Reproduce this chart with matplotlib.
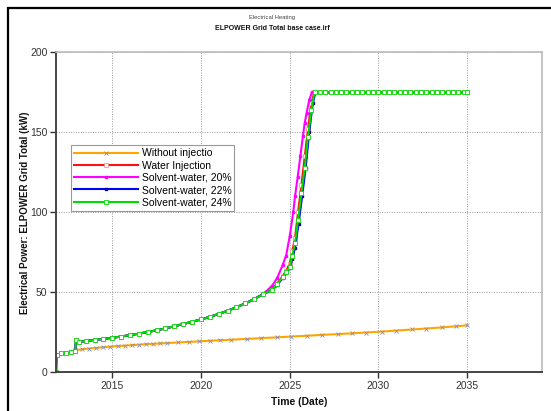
import matplotlib
matplotlib.use("Agg")
import matplotlib.pyplot as plt
from matplotlib.patches import Rectangle

plt.rcParams['font.family'] = ['Liberation Sans', 'DejaVu Sans']

# === DATA (decimal years, kW) ===
# shared start-up part of the injection cases
t_early = [2011.83, 2011.86, 2012.1, 2012.4, 2012.7, 2012.92, 2012.95, 2013.1, 2013.5,
           2014.0, 2014.5, 2015.0, 2015.5, 2016.0, 2016.5, 2017.0, 2017.5, 2018.0,
           2018.5, 2019.0, 2019.5, 2020.0, 2020.5, 2021.0, 2021.5, 2022.0, 2022.5,
           2023.0, 2023.5]
v_early = [0, 11.0, 11.8, 12.4, 13.0, 13.5, 20.0, 19.0, 19.6,
           20.3, 20.9, 21.6, 22.4, 23.3, 24.2, 25.2, 26.3, 27.5,
           28.8, 30.2, 31.6, 33.1, 34.7, 36.5, 38.5, 40.7, 43.1,
           45.8, 48.9]

# plateau at the 175 kW cap
t_plateau = [2026.7, 2027.0, 2027.3, 2027.6, 2027.9, 2028.2, 2028.5, 2028.8, 2029.1,
             2029.4, 2029.7, 2030.0, 2030.3, 2030.6, 2030.9, 2031.2, 2031.5, 2031.8,
             2032.1, 2032.4, 2032.7, 2033.0, 2033.3, 2033.6, 2033.9, 2034.2, 2034.5,
             2034.8, 2035.0]
v_plateau = [175] * len(t_plateau)

# without injection
t_noinj = [2012.9, 2013.3, 2013.7, 2014.1, 2014.5, 2014.9,
           2015.3, 2015.7, 2016.1, 2016.5, 2016.9, 2017.3, 2017.7, 2018.1, 2018.7,
           2019.3, 2019.9, 2020.5, 2021.1, 2021.7, 2022.6, 2023.4, 2024.3, 2025.1,
           2026.0, 2026.8, 2027.7, 2028.5, 2029.3, 2030.2, 2031.0, 2031.9, 2032.7,
           2033.6, 2034.4, 2035.0]
v_noinj = [13.9, 14.4, 14.9, 15.3, 15.7, 16.1,
           16.4, 16.7, 17.0, 17.3, 17.6, 17.8, 18.1, 18.3, 18.7,
           19.0, 19.4, 19.7, 20.1, 20.4, 20.9, 21.4, 21.9, 22.4,
           22.9, 23.4, 23.9, 24.4, 24.9, 25.5, 26.1, 26.8, 27.4,
           28.1, 28.8, 29.4]

# steep part of each injection case
t_water = [2024.0, 2024.3, 2024.6, 2024.8, 2025.0, 2025.15, 2025.3, 2025.47, 2025.66,
           2025.85, 2026.03, 2026.22, 2026.38]
v_water = [51.8, 55.5, 60.0, 63.5, 68.0, 76.0, 84.0, 100.0, 117.0,
           135.0, 152.0, 168.0, 175.0]

t_sw20 = [2024.0, 2024.3, 2024.6, 2024.8, 2025.0, 2025.2, 2025.3, 2025.45, 2025.6,
          2025.75, 2025.85, 2025.95, 2026.1, 2026.25]
v_sw20 = [54.0, 59.0, 67.0, 73.0, 85.0, 100.0, 110.0, 122.0, 135.0,
          148.0, 156.0, 162.0, 170.0, 175.0]

t_sw22 = [2024.0, 2024.3, 2024.6, 2024.8, 2025.0, 2025.15, 2025.3, 2025.5, 2025.7,
          2025.9, 2026.1, 2026.3, 2026.45]
v_sw22 = [51.3, 54.5, 59.0, 62.0, 65.0, 71.0, 78.0, 93.0, 110.0,
          128.0, 150.0, 168.0, 175.0]

t_sw24 = [2024.0, 2024.3, 2024.6, 2024.8, 2025.0, 2025.15, 2025.3, 2025.47, 2025.66,
          2025.85, 2026.03, 2026.22, 2026.4]
v_sw24 = [51.5, 55.0, 59.5, 62.5, 66.0, 73.0, 81.0, 95.0, 112.0,
          128.0, 147.0, 164.0, 175.0]

labels = ["Without injectio", "Water Injection", "Solvent-water, 20%",
          "Solvent-water, 22%", "Solvent-water, 24%"]
x_ticks = [2015, 2020, 2025, 2030, 2035]
y_ticks = [0, 50, 100, 150, 200]

# =========================================================
fig = plt.figure(figsize=(5.51, 4.11), dpi=100)
ax = fig.add_axes([0.101, 0.094, 0.8827, 0.7788])

# outer black frame (cut off at right and bottom)
fig.patches.append(Rectangle((8 / 551, -0.05), 1.2, 1 - 8 / 411 + 0.05,
                             transform=fig.transFigure, fill=False,
                             edgecolor='black', linewidth=1.6))

fig.text(0.494, 1 - 17 / 411, "Electrical Heating", fontsize=4.2,
         ha='center', va='center', color='#444444')
fig.text(0.494, 1 - 28 / 411, "ELPOWER Grid Total base case.irf", fontsize=5,
         ha='center', va='center', weight='bold', color='#111111')

ax.plot(t_noinj, v_noinj, color='#ffa500', linewidth=1.5, marker='x',
        markersize=2.5, markeredgecolor='#9090b0', markeredgewidth=0.6,
        label=labels[0])
ax.plot(t_early + t_water + t_plateau, v_early + v_water + v_plateau,
        color='#ff1010', linewidth=1.5, marker='s', markersize=2.2,
        markerfacecolor='white', markeredgecolor='#ff8080', markeredgewidth=0.5,
        label=labels[1])
ax.plot(t_early + t_sw20 + t_plateau, v_early + v_sw20 + v_plateau,
        color='#ff00ff', linewidth=1.5, marker='s', markersize=1.8,
        markerfacecolor='#ff00ff', markeredgecolor='#ff00ff',
        label=labels[2])
ax.plot(t_early + t_sw22 + t_plateau, v_early + v_sw22 + v_plateau,
        color='#0000ff', linewidth=1.5, marker='s', markersize=1.8,
        markerfacecolor='#000099', markeredgecolor='#000099',
        label=labels[3])
ax.plot(t_early + t_sw24 + t_plateau, v_early + v_sw24 + v_plateau,
        color='#00dd00', linewidth=1.5, marker='s', markersize=2.6,
        markerfacecolor='white', markeredgecolor='#00dd00', markeredgewidth=0.6,
        label=labels[4])

ax.set_xlim(2011.81, 2039.22)
ax.set_ylim(0, 200)
ax.set_xticks(x_ticks)
ax.set_yticks(y_ticks)
ax.grid(True, linestyle=(0, (1, 1.5)), color='#999999', linewidth=0.7)

for s in ['left', 'bottom']:
    ax.spines[s].set_color('#444444')
    ax.spines[s].set_linewidth(1.4)
for s in ['top', 'right']:
    ax.spines[s].set_color('#bbbbbb')
    ax.spines[s].set_linewidth(1.2)

ax.tick_params(axis='both', labelsize=7.5, colors='#333333', length=4,
               width=1.0, direction='out', pad=2)

ax.set_xlabel("Time (Date)", fontsize=7.5, weight='bold', color='#111111')
ax.xaxis.set_label_coords(0.5, -0.077)
ax.set_ylabel("Electrical Power: ELPOWER Grid Total (kW)", fontsize=7,
              weight='bold', color='#111111')
ax.yaxis.set_label_coords(-0.053, 0.5)

leg = ax.legend(loc='upper left', bbox_to_anchor=(0.031, 0.710),
                borderaxespad=0, fontsize=7.5, numpoints=1, handlelength=6.2,
                handletextpad=0.3, labelspacing=0.22, borderpad=0.3,
                fancybox=False, framealpha=1, edgecolor='#999999')
leg.get_frame().set_linewidth(0.8)

fig.savefig("out.png", dpi=100)
